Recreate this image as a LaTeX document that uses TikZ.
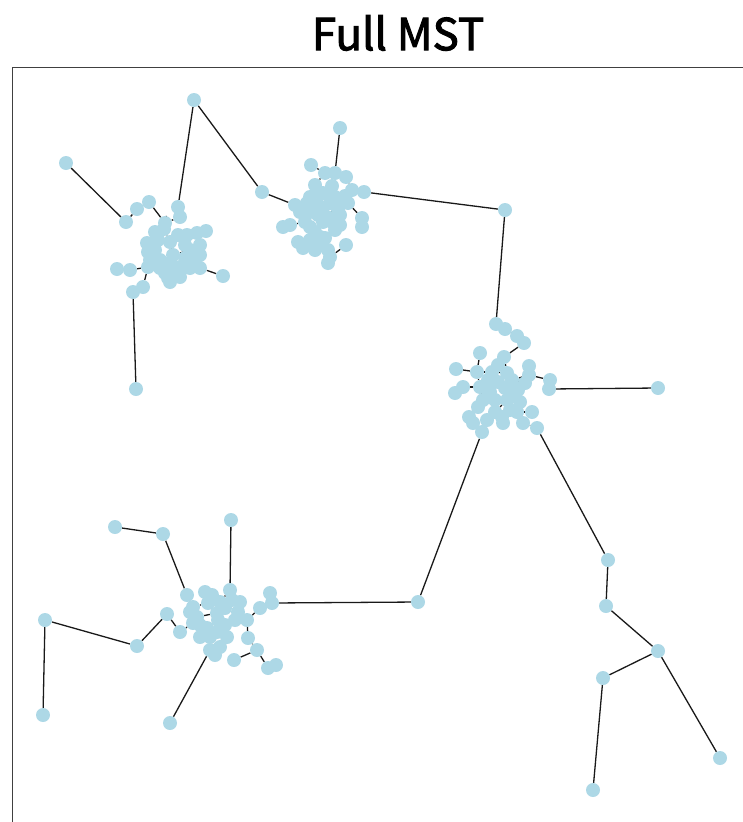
\documentclass[tikz,border=0pt]{standalone}
\usepackage{fontspec}
\usepackage{xcolor}
\usepackage{tikz}
\usetikzlibrary{backgrounds}
\newfontfamily\titlefont{Noto Sans CJK SC}[FakeBold=2.2]
\definecolor{nodeblue}{RGB}{173,216,230}

\begin{document}
\begin{tikzpicture}[
  x=1pt, y=-1pt,
  pt/.style={circle, fill=nodeblue, inner sep=0pt, minimum size=14pt},
  mstedge/.style={line width=1.3pt, black!90},
  frame/.style={line width=0.9pt, black!75}
]
\useasboundingbox (0,0) rectangle (743,822);
\node[font=\titlefont\fontsize{44}{48}\selectfont] (title) at (398,33) {Full MST};
\draw[frame] (12,822) -- (12,67) -- (743,67);

% cluster top left
\foreach \n/\x/\y in {ta/194/100, tl/66/163, bl/136/389,
  a1/126/222, a2/137/209, a3/149/202, a4/178/207, a5/180/217, a6/165/223,
  a7/164/229, a8/147/243, a9/158/240, a10/170/242, a11/187/235, a12/197/233,
  a13/206/231, a14/148/252, a15/173/255, a16/190/250, a17/200/255, a18/117/269,
  a19/130/270, a20/148/267, a21/150/260, a22/170/263, a23/180/267, a24/190/268,
  a25/200/268, a26/168/278, a27/170/282, a28/180/277, a29/223/276, a30/143/287,
  a31/133/292, a32/165/273, a33/155/250, a34/160/260, a35/185/258, a36/195/260,
  a37/175/270, a38/160/268, a39/185/245, a40/178/235, a41/155/232, a42/200/245}
  \node[pt] (\n) at (\x,\y) {};

% cluster top middle
\foreach \n/\x/\y in {b0/262/192, bt/340/128, br/505/210,
  b1/311/165, b2/325/173, b3/335/173, b4/346/177, b5/315/185, b6/332/186,
  b7/352/190, b8/364/192, b9/310/197, b10/323/193, b11/335/197, b12/295/205,
  b13/307/203, b14/318/205, b15/337/207, b16/348/203, b17/310/212, b18/327/217,
  b19/338/210, b20/362/218, b21/362/227, b22/283/227, b23/290/225, b24/305/222,
  b25/310/227, b26/323/222, b27/333/223, b28/335/230, b29/315/232, b30/320/237,
  b31/298/242, b32/303/248, b33/315/250, b34/325/238, b35/328/250, b36/346/245,
  b37/330/257, b38/328/263, b39/300/212, b40/318/215, b41/322/210, b42/330/203,
  b43/345/196, b44/340/215, b45/322/245, b46/310/240, b47/340/225, b48/318/192}
  \node[pt] (\n) at (\x,\y) {};

% cluster right
\foreach \n/\x/\y in {cr/658/388,
  c1/496/324, c2/505/329, c3/517/336, c4/524/343, c5/480/353, c6/504/357,
  c7/456/369, c8/477/372, c9/492/372, c10/507/373, c11/529/366, c12/529/375,
  c13/550/380, c14/549/389, c15/463/387, c16/455/393, c17/480/387, c18/498/382,
  c19/512/380, c20/525/383, c21/483/400, c22/513/395, c23/478/407, c24/507/400,
  c25/469/417, c26/473/423, c27/482/432, c28/495/412, c29/502/417, c30/503/423,
  c31/517/412, c32/523/423, c33/532/412, c34/537/428, c35/490/392, c36/505/388,
  c37/495/400, c38/488/380, c39/518/390, c40/520/402, c41/498/365, c42/487/420,
  c43/510/410}
  \node[pt] (\n) at (\x,\y) {};

% cluster bottom left
\foreach \n/\x/\y in {dt/231/520, da/115/527, db/163/534, dc/418/602,
  dl/45/620, dm/137/646, dlb/43/715, dbb/170/723,
  d1/187/595, d2/205/592, d3/230/590, d4/232/600, d5/270/593, d6/272/603,
  d7/260/608, d8/167/614, d9/193/607, d10/208/603, d11/220/602, d12/240/602,
  d13/197/617, d14/217/613, d15/238/612, d16/180/632, d17/193/623, d18/207/628,
  d19/218/620, d20/247/620, d21/200/637, d22/217/632, d23/227/637, d24/248/638,
  d25/210/650, d26/220/647, d27/257/650, d28/234/660, d29/268/668, d30/276/665,
  d31/212/595, d32/225/608, d33/200/625, d34/210/637, d35/225/625, d36/190/612,
  d37/235/620, d38/215/655}
  \node[pt] (\n) at (\x,\y) {};

% bottom right branch
\foreach \n/\x/\y in {e1/608/560, e2/606/606, e3/658/651, e4/720/758,
  e5/603/678, e6/593/790}
  \node[pt] (\n) at (\x,\y) {};

\begin{scope}[on background layer]
\foreach \a/\b in {ta/a4, ta/b0, tl/a1, a1/a2, a2/a3, a3/a6, a4/a5, a5/a6,
  a6/a7, a7/a10, a9/a10, a8/a9, a8/a14, a14/a21, a21/a20, a20/a19, a19/a18,
  a20/a30, a30/a31, a31/bl, a10/a15, a11/a10, a11/a12, a12/a13, a15/a16,
  a16/a17, a15/a22, a22/a23, a23/a24, a24/a25, a25/a29, a22/a32, a32/a26,
  a26/a27, a28/a23,
  b0/b12, bt/b3, b1/b2, b2/b3, b3/b4, b2/b5, b5/b10, b6/b11, b10/b11, b4/b7,
  b7/b8, b8/br, br/c1, b12/b13, b13/b14, b14/b10, b14/b17, b9/b13, b11/b15,
  b15/b19, b19/b16, b16/b20, b20/b21, b17/b18, b18/b26, b26/b27, b27/b28,
  b24/b17, b24/b23, b23/b22, b24/b25, b25/b29, b29/b30, b30/b34, b30/b33,
  b33/b32, b32/b31, b33/b35, b35/b37, b37/b38, b37/b36,
  c1/c2, c2/c3, c3/c4, c4/c6, c6/c10, c5/c8, c7/c8, c8/c9, c9/c10, c10/c19,
  c11/c12, c12/c19, c12/c13, c13/c14, c14/cr, c8/c17, c17/c15, c15/c16,
  c9/c18, c18/c17, c19/c20, c18/c22, c17/c21, c21/c23, c23/c25, c25/c26,
  c26/c27, c27/dc, c22/c24, c24/c28, c28/c29, c29/c30, c24/c31, c31/c33,
  c31/c32, c32/c34, c34/e1,
  e1/e2, e2/e3, e3/e4, e3/e5, e5/e6,
  dt/d3, da/db, db/d1, d1/d9, d9/d10, d10/d2, d10/d11, d11/d3, d3/d4, d4/d12,
  d12/d15, d15/d20, d20/d7, d7/d6, d6/d5, d6/dc, dl/dm, dl/dlb, dm/d8,
  d8/d16, d16/d17, d17/d13, d13/d14, d14/d19, d17/d18, d18/d21, d21/d22,
  d22/d23, d23/d26, d26/d25, d25/dbb, d20/d24, d24/d27, d27/d28, d27/d29,
  d29/d30}
  \draw[mstedge] (\a) -- (\b);
\end{scope}
\end{tikzpicture}
\end{document}
